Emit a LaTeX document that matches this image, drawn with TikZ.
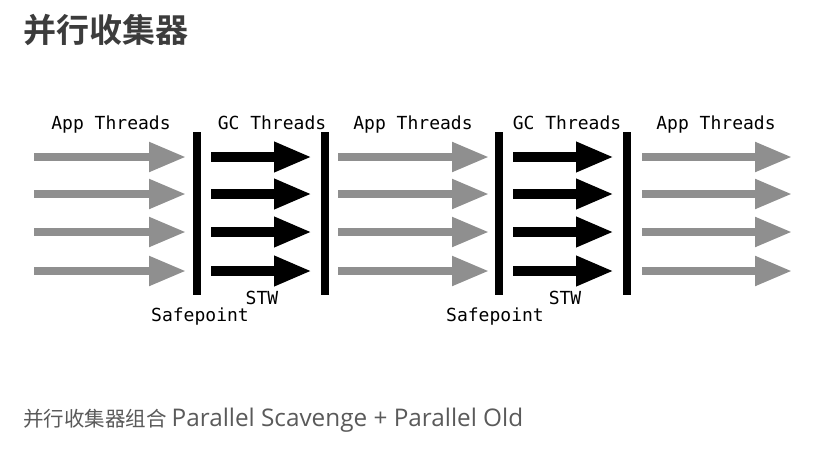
\documentclass[tikz,border=0pt]{standalone}
\usepackage{fontspec}
\setmonofont{DejaVu Sans Mono}
\newfontfamily\cjk{Noto Sans CJK SC}
\newfontfamily\cjkbold{Noto Sans CJK SC Bold}
\newfontfamily\latincap{Open Sans}
\usetikzlibrary{arrows.meta}
\definecolor{appgray}{HTML}{8F8F8F}
\definecolor{titlegray}{HTML}{3C3C3C}
\definecolor{capgray}{HTML}{5A5A5A}
\tikzset{
  apparrow/.style={draw=appgray, line width=8pt, -{Triangle[length=37pt,width=28pt]}},
  gcarrow/.style={draw=black, line width=10pt, -{Triangle[length=38pt,width=28pt]}},
  safebar/.style={draw=black, line width=8pt},
  lbl/.style={font=\ttfamily\fontsize{18}{21}\selectfont, inner sep=0pt, anchor=base},
}
\begin{document}
\begin{tikzpicture}[x=1pt,y=-1pt]
\useasboundingbox[fill=white] (0,0) rectangle (822,448);
% title
\node[anchor=west, inner sep=0pt, text=titlegray, font=\cjkbold\fontsize{33}{38}\selectfont] (title) at (23,30) {并行收集器};
% arrows
\foreach \r/\yy in {1/157,2/194,3/232,4/271}{
  \coordinate (a1s\r) at (34,\yy);  \coordinate (a1e\r) at (186,\yy);
  \coordinate (g1s\r) at (211,\yy); \coordinate (g1e\r) at (312,\yy);
  \coordinate (a2s\r) at (338,\yy); \coordinate (a2e\r) at (489,\yy);
  \coordinate (g2s\r) at (513,\yy); \coordinate (g2e\r) at (614,\yy);
  \coordinate (a3s\r) at (642,\yy); \coordinate (a3e\r) at (792,\yy);
  \draw[apparrow] (a1s\r) -- (a1e\r);
  \draw[gcarrow] (g1s\r) -- (g1e\r);
  \draw[apparrow] (a2s\r) -- (a2e\r);
  \draw[gcarrow] (g2s\r) -- (g2e\r);
  \draw[apparrow] (a3s\r) -- (a3e\r);
}
% bars
\foreach \b/\xx in {1/197,2/325,3/499,4/627}{
  \coordinate (b\b t) at (\xx,132);
  \coordinate (b\b b) at (\xx,295);
  \draw[safebar] (b\b t) -- (b\b b);
}
% labels
\node[lbl] (l1) at (111,129) {App Threads};
\node[lbl] (l2) at (272,129) {GC Threads};
\node[lbl] (l3) at (413,129) {App Threads};
\node[lbl] (l4) at (567,129) {GC Threads};
\node[lbl] (l5) at (716,129) {App Threads};
\node[lbl] (sp1) at (200,321) {Safepoint};
\node[lbl] (stw1) at (262,304) {STW};
\node[lbl] (sp2) at (495,321) {Safepoint};
\node[lbl] (stw2) at (565,304) {STW};
% caption
\node[anchor=west, inner sep=0pt, text=capgray, font=\cjk\fontsize{20.5}{24}\selectfont] (cap) at (23,420) {并行收集器组合\hspace{5pt}{\latincap\fontsize{24.3}{26}\selectfont Parallel Scavenge + Parallel Old}};
\end{tikzpicture}
\end{document}
